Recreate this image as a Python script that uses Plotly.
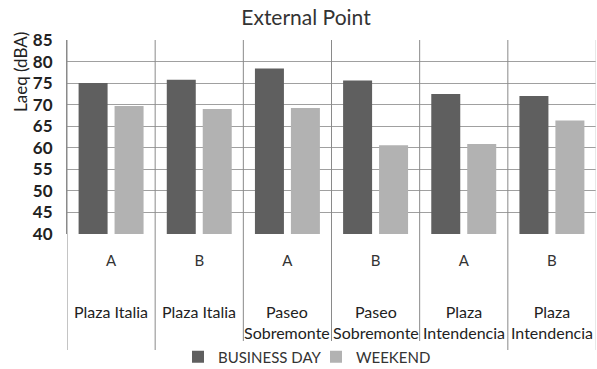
import plotly.graph_objects as go

codes = ["A", "B", "A", "B", "A", "B"]
places = ["Plaza Italia", "Plaza Italia", "Paseo<br>Sobremonte", "Paseo<br>Sobremonte",
          "Plaza<br>Intendencia", "Plaza<br>Intendencia"]
business_day = [75.0, 75.8, 78.4, 75.6, 72.5, 72.0]
weekend = [69.7, 69.0, 69.2, 60.6, 60.9, 66.3]
y_ticks = [40, 45, 50, 55, 60, 65, 70, 75, 80, 85]

FONT = "Lato"
xs = list(range(len(codes)))

fig = go.Figure()
fig.add_trace(go.Bar(x=xs, y=business_day, name="BUSINESS DAY",
                     marker=dict(color="#5f5f5f", line=dict(width=0))))
fig.add_trace(go.Bar(x=xs, y=weekend, name="WEEKEND",
                     marker=dict(color="#b2b2b2", line=dict(width=0))))

W, H = 597, 369
L, R, T, B = 67, 1, 40, 135
ph = H - T - B
pw = W - L - R

def py(px):
    return (H - B - px) / ph

fig.update_layout(
    width=W, height=H,
    margin=dict(l=L, r=R, t=T, b=B, pad=0, autoexpand=False),
    paper_bgcolor="white", plot_bgcolor="white",
    barmode="group", bargap=0.184, bargroupgap=0.194,
    title=dict(text="External Point", x=306 / W, xref="container", xanchor="center",
               y=1 - 18 / H, yanchor="middle",
               font=dict(family=FONT, size=21, color="#333333")),
    font=dict(family=FONT, color="#222222"),
    legend=dict(orientation="h", x=(316 - L) / pw, xanchor="center",
                y=py(357), yanchor="middle",
                font=dict(family=FONT, size=15, color="#333333"),
                itemwidth=30, tracegroupgap=0, traceorder="normal",
                entrywidth=93, entrywidthmode="pixels"),
    showlegend=True,
)

fig.update_xaxes(
    range=[-0.5, len(codes) - 0.5], tickmode="array", tickvals=xs, ticktext=codes,
    showgrid=False, zeroline=False, showline=False, ticks="", automargin=False,
    tickfont=dict(family=FONT, size=15, color="#333333"),
    ticklabelstandoff=16, fixedrange=True,
)
fig.update_yaxes(
    range=[y_ticks[0], y_ticks[-1]], tickmode="array", tickvals=y_ticks,
    showgrid=True, gridcolor="#a0a0a0", gridwidth=1, zeroline=False, automargin=False,
    showline=True, linecolor="#8a8a8a", linewidth=1, ticks="",
    tickfont=dict(family=FONT, size=17, color="#222222", weight="bold"),
    ticklabelstandoff=10, fixedrange=True,
)

# category separators extending below the plot
for i in range(len(codes) + 1):
    fig.add_shape(type="line", xref="x", yref="paper", x0=i - 0.5, x1=i - 0.5,
                  y0=1, y1=py(350), layer="above",
                  line=dict(color="#8a8a8a" if i < len(codes) else "#d0d0d0", width=1))

for i, name in enumerate(places):
    fig.add_annotation(x=i, xref="x", y=py(300), yref="paper", yanchor="top",
                       text=name, showarrow=False,
                       font=dict(family=FONT, size=16, color="#222222"))

fig.add_annotation(x=(20 - L) / pw, xref="paper", y=py(72), yref="paper",
                   text="Laeq (dBA)", textangle=-90, showarrow=False,
                   xanchor="center", yanchor="middle",
                   font=dict(family=FONT, size=17, color="#222222"))

fig.write_html("out.html", config={"displayModeBar": False},
               post_script="document.body.style.margin='0';")
